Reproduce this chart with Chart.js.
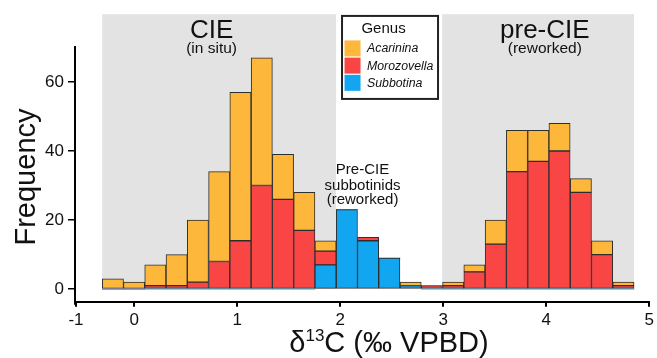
<!DOCTYPE html>
<html><head><meta charset="utf-8">
<script src="https://cdn.jsdelivr.net/npm/chart.js@4.4.1/dist/chart.umd.min.js"></script>
<style>html,body{margin:0;padding:0;background:#fff;}#wrap{width:657px;height:358px;}</style>
</head><body><div id="wrap"><canvas id="c" width="657" height="358"></canvas></div>
<script>
// ---- data ----
const binCenters = [-0.206,0.000,0.206,0.413,0.619,0.826,1.032,1.239,1.445,1.652,1.858,2.065,2.271,2.477,2.684,2.890,3.097,3.303,3.510,3.716,3.923,4.129,4.336,4.542,4.749];
const acarinina   = [3,2,6,9,18,26,43,37,13,11,3,0,0,0,1,0,1,2,7,12,9,8,4,4,1];
const morozovella = [0,0,1,1,2,8,14,30,26,17,4,0,1,0,0,1,1,5,13,34,37,40,28,10,1];
const subbotina   = [0,0,0,0,0,0,0,0,0,0,7,23,14,9,1,0,0,0,0,0,0,0,0,0,0];
const xTickValues = [-0.564,0,1,2,3,4,5];
const xTickLabels = ['-1','0','1','2','3','4','5'];
const yTickValues = [0,20,40,60];
const genusNames  = ['Acarinina','Morozovella','Subbotina'];

// ---- styling / annotation config ----
const FONT = '"Liberation Sans", Arial, Helvetica, sans-serif';
const COLORS = {Acarinina:'#FDB73B', Morozovella:'#FA4545', Subbotina:'#12A5F0'};
const bands = [{from:-0.31,to:1.96},{from:2.99,to:4.852}];
const bandTop = 79.6;
const yAxisTop = 70.4;

const mk = (name, vals) => ({
  label: name,
  data: binCenters.map((c,i)=>({x:c, y:vals[i]})),
  backgroundColor: COLORS[name],
  borderColor: '#2e2e2e',
  borderWidth: ctx => (ctx.raw && ctx.raw.y ? 1 : 0),
  borderSkipped: false,
  categoryPercentage: 1.0,
  barPercentage: 1.0
});

const annot = {
  id:'annot',
  beforeDatasetsDraw(chart){
    const {ctx, scales:{x,y}} = chart;
    ctx.save();
    ctx.fillStyle = '#E3E3E3';
    bands.forEach(b=>{
      const x1=x.getPixelForValue(b.from), x2=x.getPixelForValue(b.to);
      const y1=y.getPixelForValue(bandTop), y2=y.getPixelForValue(0);
      ctx.fillRect(x1,y1,x2-x1,y2-y1);
    });
    ctx.restore();
  },
  afterDraw(chart){
    const {ctx, chartArea, scales:{x,y}} = chart;
    ctx.save();
    // y axis line
    ctx.strokeStyle='#000'; ctx.lineWidth=2;
    ctx.beginPath();
    ctx.moveTo(chartArea.left-1, y.getPixelForValue(yAxisTop));
    ctx.lineTo(chartArea.left-1, chartArea.bottom+3);
    ctx.stroke();

    ctx.fillStyle='#111';
    const txt=(s,vx,vy,size,opts={})=>{
      ctx.font=(opts.italic?'italic ':'')+size+'px '+FONT;
      ctx.textAlign=opts.align||'center';
      ctx.textBaseline='alphabetic';
      ctx.fillText(s, x.getPixelForValue(vx), y.getPixelForValue(vy));
    };
    txt('CIE', 0.752, 72.8, 26);
    txt('(in situ)', 0.752, 68.4, 15.5);
    txt('pre-CIE', 3.986, 72.8, 26);
    txt('(reworked)', 3.986, 68.4, 15.5);
    txt('Pre-CIE', 2.217, 33.3, 15);
    txt('subbotinids', 2.217, 28.7, 15);
    txt('(reworked)', 2.217, 24.7, 15);

    // legend box
    const L = x.getPixelForValue(2.018), T = y.getPixelForValue(79.1);
    const W = 96, H = 83;
    ctx.fillStyle='#fff'; ctx.fillRect(L,T,W,H);
    ctx.strokeStyle='#222'; ctx.lineWidth=2; ctx.strokeRect(L,T,W,H);
    ctx.fillStyle='#111';
    ctx.font='15px '+FONT; ctx.textAlign='center'; ctx.textBaseline='alphabetic';
    ctx.fillText('Genus', L+41.5, T+17.5);
    genusNames.forEach((g,i)=>{
      ctx.fillStyle=COLORS[g];
      ctx.fillRect(L+2.5, T+24.5+i*17.2, 16, 16);
      ctx.fillStyle='#111';
      ctx.font='italic 12.3px '+FONT; ctx.textAlign='left'; ctx.textBaseline='middle';
      ctx.fillText(g, L+25, T+33+i*17.2);
    });

    // axis titles
    ctx.fillStyle='#111';
    ctx.textBaseline='alphabetic';
    const big=29, sup=17;
    const p1='δ', p2='13', p3='C (‰ VPBD)';
    ctx.font=big+'px '+FONT; const w1=ctx.measureText(p1).width, w3=ctx.measureText(p3).width;
    ctx.font=sup+'px '+FONT; const w2=ctx.measureText(p2).width;
    const total=w1+w2+w3; let sx=389-total/2; const by=352;
    ctx.textAlign='left';
    ctx.font=big+'px '+FONT; ctx.fillText(p1,sx,by); sx+=w1;
    ctx.font=sup+'px '+FONT; ctx.fillText(p2,sx,by-11); sx+=w2;
    ctx.font=big+'px '+FONT; ctx.fillText(p3,sx,by);

    ctx.save();
    ctx.translate(27,177); ctx.rotate(-Math.PI/2);
    ctx.font=big+'px '+FONT; ctx.textAlign='center'; ctx.textBaseline='middle';
    ctx.fillText('Frequency',0,0);
    ctx.restore();
    ctx.restore();
  }
};

new Chart(document.getElementById('c'), {
  type:'bar',
  data:{datasets:[mk('Subbotina',subbotina), mk('Morozovella',morozovella), mk('Acarinina',acarinina)]},
  options:{
    responsive:false, animation:false,
    layout:{padding:{top:12.3,right:6.3,left:0,bottom:0}},
    plugins:{legend:{display:false}, tooltip:{enabled:false}},
    scales:{
      x:{type:'linear', stacked:true, min:-0.564, max:5, offset:false,
        afterBuildTicks:s=>{s.ticks=xTickValues.map(v=>({value:v}));},
        afterFit:s=>{s.height=56.3;},
        grid:{offset:false, drawOnChartArea:false, drawTicks:true, tickLength:5, color:'#000', lineWidth:2},
        border:{display:true, color:'#000', width:2},
        ticks:{font:{family:FONT,size:17}, color:'#111', padding:3, maxRotation:0, autoSkip:false,
          callback:(v,i)=>xTickLabels[i]}
      },
      y:{stacked:true, min:-3.65, max:79.6,
        afterBuildTicks:s=>{s.ticks=yTickValues.map(v=>({value:v}));},
        afterFit:s=>{s.width=76;},
        grid:{drawOnChartArea:false, drawTicks:true, tickLength:8, color:'#000', lineWidth:1.5},
        border:{display:false},
        ticks:{font:{family:FONT,size:17}, color:'#111', padding:4, callback:v=>String(v)}
      }
    }
  },
  plugins:[annot]
});
</script>
</body></html>
